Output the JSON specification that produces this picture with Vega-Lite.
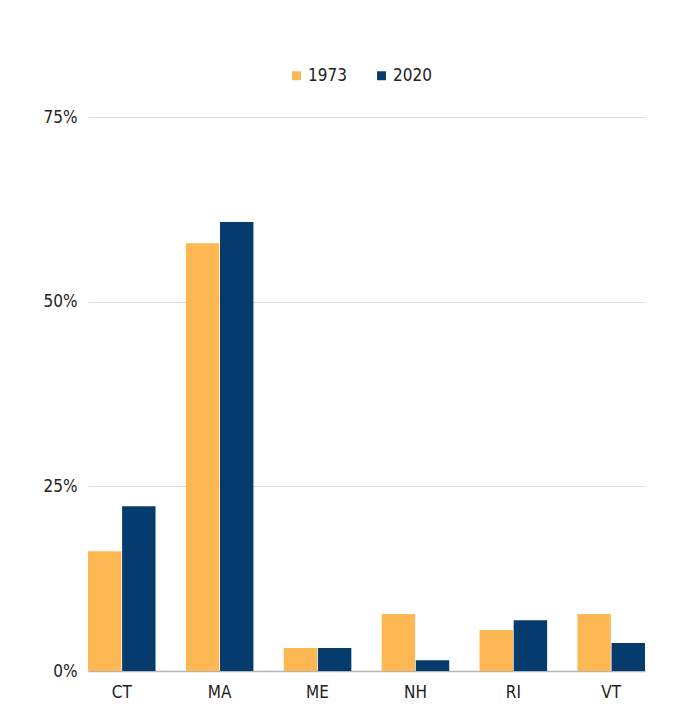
{
  "$schema": "https://vega.github.io/schema/vega-lite/v6.json",
  "width": 557,
  "height": 554,
  "autosize": {"type": "none"},
  "padding": {"left": 88, "top": 117, "right": 41, "bottom": 38},
  "background": "white",
  "config": {
    "font": "DejaVu Sans Condensed, Liberation Sans Narrow, Roboto, sans-serif",
    "view": {"stroke": null}
  },
  "data": {
    "values": [
      {"state": "CT", "year": "1973", "share": 0.162},
      {"state": "CT", "year": "2020", "share": 0.223},
      {"state": "MA", "year": "1973", "share": 0.579},
      {"state": "MA", "year": "2020", "share": 0.608},
      {"state": "ME", "year": "1973", "share": 0.031},
      {"state": "ME", "year": "2020", "share": 0.031},
      {"state": "NH", "year": "1973", "share": 0.077},
      {"state": "NH", "year": "2020", "share": 0.0145},
      {"state": "RI", "year": "1973", "share": 0.0555},
      {"state": "RI", "year": "2020", "share": 0.0686},
      {"state": "VT", "year": "1973", "share": 0.077},
      {"state": "VT", "year": "2020", "share": 0.038}
    ]
  },
  "mark": {"type": "bar"},
  "encoding": {
    "x": {
      "field": "state",
      "type": "nominal",
      "scale": {"paddingInner": 0.31, "paddingOuter": 0},
      "axis": {
        "title": null,
        "labelAngle": 0,
        "ticks": false,
        "domain": true,
        "domainColor": "#b5b5b5",
        "domainWidth": 1.5,
        "labelPadding": 13,
        "labelFontSize": 17,
        "labelColor": "#222222"
      }
    },
    "xOffset": {
      "field": "year",
      "type": "nominal",
      "scale": {"paddingInner": 0.02}
    },
    "y": {
      "field": "share",
      "type": "quantitative",
      "scale": {"domain": [0, 0.75]},
      "axis": {
        "format": ".0%",
        "values": [0, 0.25, 0.5, 0.75],
        "title": null,
        "domain": false,
        "ticks": false,
        "gridColor": "#dedede",
        "gridWidth": 1.2,
        "labelPadding": 11,
        "labelFontSize": 17,
        "labelColor": "#222222"
      }
    },
    "color": {
      "field": "year",
      "type": "nominal",
      "scale": {"domain": ["1973", "2020"], "range": ["#FDB853", "#063B6D"]},
      "legend": {
        "title": null,
        "orient": "none",
        "direction": "horizontal",
        "legendX": 200,
        "legendY": -50,
        "symbolType": "square",
        "symbolSize": 80,
        "labelFontSize": 17,
        "labelColor": "#222222",
        "columnPadding": 26,
        "labelOffset": 3
      }
    }
  }
}
